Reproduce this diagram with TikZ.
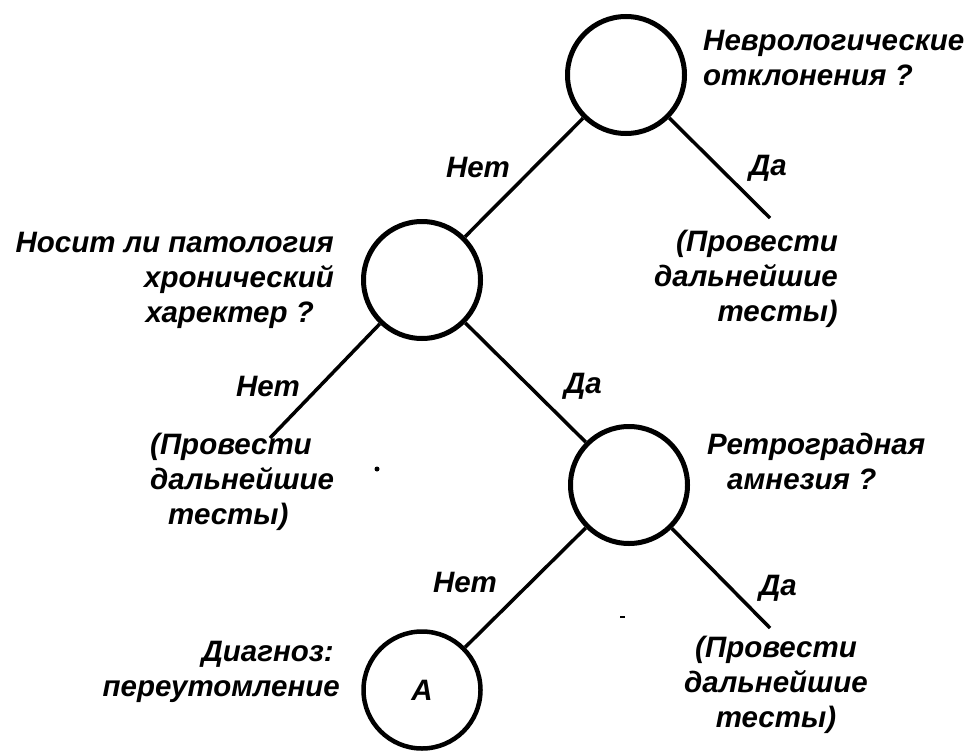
\documentclass[tikz,border=0pt]{standalone}
\usepackage{fontspec}
\setmainfont{Liberation Sans}
\begin{document}
\begin{tikzpicture}[x=1pt,y=-1pt,
  lbl/.style={font=\fontsize{29.5}{35}\selectfont\bfseries\itshape, inner sep=0pt},
  decision/.style={circle, draw, line width=5pt, minimum size=117pt, inner sep=0pt},
  branch/.style={line width=3.5pt},
  speck/.style={fill, circle, inner sep=0pt}
]
\useasboundingbox[fill=white] (0,0) rectangle (971,752);

% decision circles
\node[decision] (c1) at (626,75) {};
\node[decision] (c2) at (422,280) {};
\node[decision] (c3) at (629,485) {};
\node[decision, line width=4.5pt] (c4) at (422,690) {\fontsize{29.5}{35}\selectfont\bfseries\itshape A};

% free ends
\coordinate (e1) at (770,218);
\coordinate (e2) at (270,438);
\coordinate (e3) at (770,628);

% connectors
\draw[branch] (c1) -- (c2);
\draw[branch] (c1) -- (e1);
\draw[branch] (c2) -- (e2);
\draw[branch] (c2) -- (c3);
\draw[branch] (c3) -- (c4);
\draw[branch] (c3) -- (e3);

% question labels
\node[lbl, align=left, anchor=north west] (q1) at (703,30) {Неврологические\\отклонения ?};
\node[lbl, align=right, anchor=north east] (q2) at (334,232) {Носит ли патология\\хронический\hspace*{16pt}\\харектер ?\hspace*{20pt}};
\node[lbl, align=left, anchor=north west] (q3) at (707,433) {Ретроградная\\\hspace*{20pt}амнезия ?};
\node[lbl, align=right, anchor=north east] (q4) at (340,641) {Диагноз:\hspace*{6pt}\\переутомление};

% branch labels
\node[lbl] (n1) at (478,167) {Нет};
\node[lbl] (d1) at (768,168) {Да};
\node[lbl] (n2) at (268,386) {Нет};
\node[lbl] (d2) at (583,386) {Да};
\node[lbl] (n3) at (465,582) {Нет};
\node[lbl] (d3) at (778,588) {Да};

% outcome labels
\node[lbl, align=right, anchor=north east] (t1) at (838,230) {(Провести\\дальнейшие\\тесты)};
\node[lbl, align=left, anchor=north west] (t2) at (150,433) {(Провести\\дальнейшие\\\hspace*{18pt}тесты)};
\node[lbl, align=center, anchor=north] (t3) at (776,636) {(Провести\\дальнейшие\\тесты)};

% scan specks
\node[speck, minimum size=5pt] (s1) at (377,469) {};
\node[fill, inner sep=0pt, minimum width=5pt, minimum height=2pt] (s2) at (622,617) {};
\end{tikzpicture}
\end{document}
